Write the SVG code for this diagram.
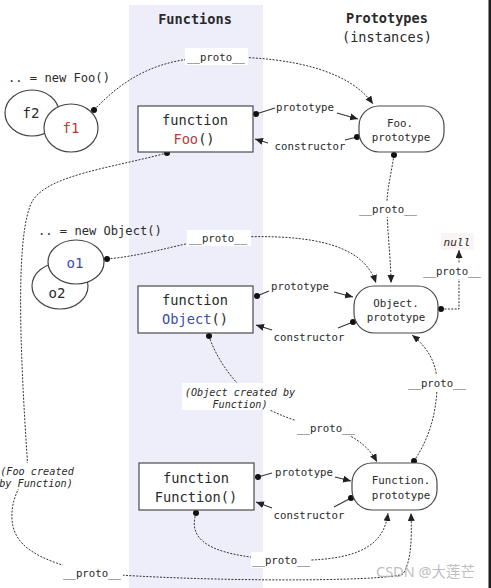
<svg xmlns="http://www.w3.org/2000/svg" width="491" height="588" viewBox="0 0 491 588">
<defs>
<style>
.t{font-family:"DejaVu Sans Mono","Liberation Mono",monospace;fill:#2a2a2a}
.h{font-size:13.6px;font-weight:bold;text-anchor:middle}
.hn{font-size:13.6px;text-anchor:middle}
.fn{font-size:13.7px;text-anchor:middle}
.pl{font-size:10.8px;text-anchor:middle}
.lb{font-size:10.7px;text-anchor:middle}
.it{font-size:10.2px;font-style:italic;text-anchor:middle}
.ins{font-size:12.1px}
.obj{font-size:14px;text-anchor:middle}
.red{fill:#b83a3a}
.blue{fill:#3b4cb0}
.box{fill:#fff;stroke:#4a4a4a;stroke-width:1.2}
.ell{fill:#fff;stroke:#444;stroke-width:1.2}
.d{fill:none;stroke:#333;stroke-width:1;stroke-dasharray:2 1.4}
.s{fill:none;stroke:#333;stroke-width:1.1}
.bg{fill:#fff}
</style>
<marker id="ar" markerUnits="userSpaceOnUse" markerWidth="10" markerHeight="8" refX="8" refY="3.5" orient="auto" viewBox="0 0 10 8">
<path d="M0,0 L8,3.5 L0,7 z" fill="#222"/>
</marker>
<marker id="dt" markerUnits="userSpaceOnUse" markerWidth="8" markerHeight="8" refX="4" refY="4" viewBox="0 0 8 8">
<circle cx="4" cy="4" r="3" fill="#111"/>
</marker>
</defs>
<rect width="491" height="588" fill="#fff"/>
<rect x="129" y="5" width="134" height="583" fill="#eeeefb"/>
<rect x="488.5" y="0" width="2.5" height="588" fill="#1e1e1e"/>

<text class="t h" x="195" y="24">Functions</text>
<text class="t h" x="387" y="23">Prototypes</text>
<text class="t hn" x="387" y="42">(instances)</text>

<g id="connectors">
<path class="d" d="M94,110 C130,72 165,58 216,57 C300,56 352,74 373,104" marker-start="url(#dt)" marker-end="url(#ar)"/>
<path class="d" d="M394,155 C390,180 386,195 387,210 C388,240 391,262 391,283" marker-start="url(#dt)" marker-end="url(#ar)"/>
<path class="d" d="M441,309 L459,309 L459,250" marker-start="url(#dt)" marker-end="url(#ar)"/>
<path class="d" d="M107,259 C150,255 185,242 218,238 C300,233 362,240 376,283" marker-start="url(#dt)" marker-end="url(#ar)"/>
<path class="d" d="M209,336 C220,370 250,400 270,410 C290,420 310,425 326,428 C350,432 368,445 377,462" marker-start="url(#dt)" marker-end="url(#ar)"/>
<path class="d" d="M414,461 C428,440 437,415 437,383 C437,362 426,346 412,335" marker-start="url(#dt)" marker-end="url(#ar)"/>
<path class="d" d="M196,513 C186,545 220,556 281,560 C360,563 384,545 388,513" marker-start="url(#dt)" marker-end="url(#ar)"/>
<path class="d" d="M167,153 C110,168 50,175 33,200 C15,230 20,350 27,455 C30,480 10,490 12,520 C14,545 35,560 92,573 C200,582 385,582 403,574 C411,562 412,540 411,513" marker-start="url(#dt)" marker-end="url(#ar)"/>

<path class="s" d="M256,114 L275,108" marker-start="url(#dt)"/>
<path class="s" d="M337,113 L358,119" marker-end="url(#ar)"/>
<path class="s" d="M357,137 L345,140" marker-start="url(#dt)"/>
<path class="s" d="M268,143 L255,139" marker-end="url(#ar)"/>

<path class="s" d="M257,296 L269,291" marker-start="url(#dt)"/>
<path class="s" d="M334,292 L353,297" marker-end="url(#ar)"/>
<path class="s" d="M353,322 L338,328" marker-start="url(#dt)"/>
<path class="s" d="M272,330 L256,325" marker-end="url(#ar)"/>

<path class="s" d="M258,477 L272,473" marker-start="url(#dt)"/>
<path class="s" d="M335,477 L351,481" marker-end="url(#ar)"/>
<path class="s" d="M351,498 L334,507" marker-start="url(#dt)"/>
<path class="s" d="M272,508 L256,502" marker-end="url(#ar)"/>

<rect class="bg" x="185" y="48" width="63" height="17"/>
<text class="t lb" x="216" y="61">__proto__</text>
<rect class="bg" x="359" y="201" width="58" height="16"/>
<text class="t lb" x="388" y="213">__proto__</text>
<rect class="bg" x="423" y="263" width="57" height="16"/>
<text class="t lb" x="452" y="275">__proto__</text>
<rect class="bg" x="187" y="230" width="64" height="16"/>
<text class="t lb" x="218" y="242">__proto__</text>
<rect class="bg" x="182" y="383" width="114" height="27"/>
<text class="t it" x="240" y="396">(Object created by</text>
<text class="t it" x="240" y="407.5">Function)</text>
<rect class="bg" x="296" y="420" width="60" height="16"/>
<text class="t lb" x="326" y="432">__proto__</text>
<rect class="bg" x="407" y="375" width="60" height="16"/>
<text class="t lb" x="437" y="387">__proto__</text>
<rect class="bg" x="251" y="552" width="60" height="16"/>
<text class="t lb" x="281" y="564">__proto__</text>
<rect class="bg" x="0" y="463" width="74" height="26"/>
<text class="t it" x="37" y="475">(Foo created</text>
<text class="t it" x="36" y="487">by Function)</text>
<rect class="bg" x="62" y="565" width="61" height="16"/>
<text class="t lb" x="92" y="577">__proto__</text>

<text class="t lb" x="305" y="111">prototype</text>
<text class="t lb" x="310" y="150">constructor</text>
<text class="t lb" x="300" y="290">prototype</text>
<text class="t lb" x="309" y="341">constructor</text>
<text class="t lb" x="304" y="476">prototype</text>
<text class="t lb" x="309" y="519">constructor</text>
</g>

<g id="foo-instances">
<text class="t ins" x="8" y="82">.. = new Foo()</text>
<ellipse class="ell" cx="32" cy="113" rx="27" ry="23"/>
<text class="t obj" x="31" y="118">f2</text>
<ellipse class="ell" cx="71" cy="128" rx="27" ry="24"/>
<text class="t obj red" x="71" y="133">f1</text>
</g>

<g id="object-instances">
<text class="t ins" x="38" y="235">.. = new Object()</text>
<ellipse class="ell" cx="60" cy="286" rx="28" ry="23"/>
<text class="t obj" x="57" y="298">o2</text>
<ellipse class="ell" cx="76" cy="262" rx="28" ry="22"/>
<text class="t obj blue" x="75" y="268">o1</text>
</g>

<g id="foo-fn">
<rect class="box" x="138" y="106" width="115" height="46"/>
<text class="t fn" x="195" y="125">function</text>
<text class="t fn" x="194" y="144"><tspan class="red">Foo</tspan>()</text>
</g>

<g id="object-fn">
<rect class="box" x="138" y="286" width="115" height="47"/>
<text class="t fn" x="195" y="305">function</text>
<text class="t fn" x="195" y="324"><tspan class="blue">Object</tspan>()</text>
</g>

<g id="function-fn">
<rect class="box" x="139" y="463" width="115" height="47"/>
<text class="t fn" x="196" y="483">function</text>
<text class="t fn" x="196" y="502">Function()</text>
</g>

<g id="foo-proto">
<rect class="box" x="359" y="106" width="85" height="46" rx="20" ry="20"/>
<text class="t pl" x="400" y="127">Foo.</text>
<text class="t pl" x="401" y="141">prototype</text>
</g>

<g id="object-proto">
<rect class="box" x="354" y="286" width="84" height="47" rx="20" ry="20"/>
<text class="t pl" x="396" y="307">Object.</text>
<text class="t pl" x="396" y="321">prototype</text>
</g>

<g id="function-proto">
<rect class="box" x="352" y="463" width="85" height="47" rx="20" ry="20"/>
<text class="t pl" x="401" y="484">Function.</text>
<text class="t pl" x="401" y="499">prototype</text>
</g>

<g id="null">
<rect x="441" y="233" width="33" height="17" fill="#fbf4f4"/>
<text class="t" x="457" y="246" font-size="11.2" font-style="italic" text-anchor="middle">null</text>
</g>

<text x="376" y="577" font-family="'Noto Sans','Noto Sans CJK SC',sans-serif" font-size="14.5" fill="#b5b5b5" fill-opacity="0.9">CSDN @大莲芒</text>
</svg>
